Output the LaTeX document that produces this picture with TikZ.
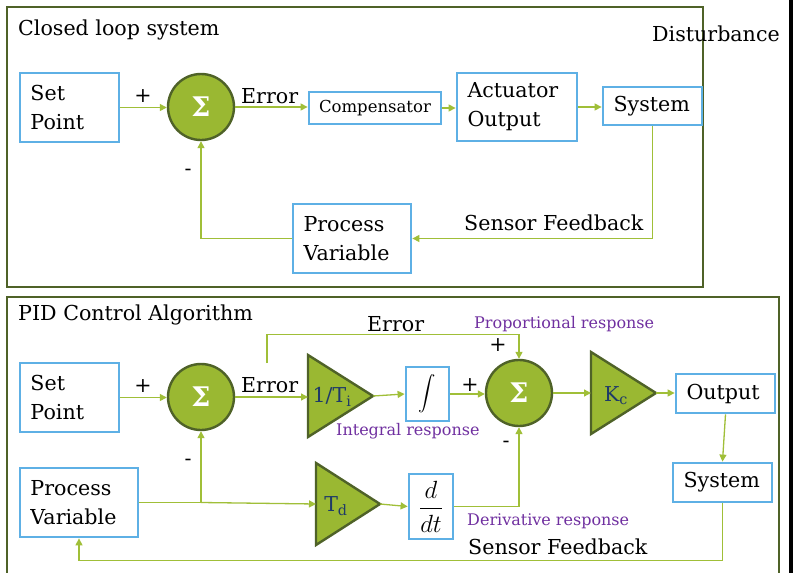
\documentclass[tikz,border=0pt]{standalone}
\usepackage{exscale}
\usepackage{fontspec}
\setmainfont{DejaVu Serif}
\usetikzlibrary{arrows.meta,calc}
\definecolor{frameolive}{HTML}{4F6228}
\definecolor{sumgreen}{HTML}{9AB832}
\definecolor{linegreen}{HTML}{A0BF38}
\definecolor{boxblue}{HTML}{5EB0E5}
\definecolor{gainnavy}{HTML}{1F3A68}
\definecolor{respurple}{HTML}{7030A0}
\begin{document}
\begin{tikzpicture}[x=1pt,y=-1pt,
  lbl/.style={font=\fontsize{20.6}{29}\selectfont, inner sep=0pt},
  blk/.style={draw=boxblue, line width=2.8pt, fill=white, inner ysep=0pt,
    inner xsep=10.5pt, align=left, font=\fontsize{20.6}{29}\selectfont},
  sumc/.style={circle, draw=frameolive, line width=2.4pt, fill=sumgreen,
    minimum size=66pt, inner sep=0pt, text=white,
    font=\fontsize{27}{27}\selectfont\bfseries},
  gain/.style={draw=frameolive, line width=2.4pt, fill=sumgreen, line join=miter},
  con/.style={draw=linegreen, line width=1.3pt},
  arr/.style={con, -{Triangle[length=7pt,width=7pt]}},
  frm/.style={draw=frameolive, line width=2.8pt},
  resp/.style={text=respurple, font=\fontsize{16}{18}\selectfont, inner sep=0pt},
  navy/.style={text=gainnavy, font=\fontsize{20.5}{24}\selectfont, inner sep=0pt}]

\useasboundingbox (0,0) rectangle (796,573);
\fill[white] (0,0) rectangle (796,573);

% ---------- frames ----------
\begin{scope}
  \clip (0,0) rectangle (796,573);
  \draw[frm] (7,7) rectangle (703,287);
  \draw[frm] (7,297) rectangle (779,600);
  \fill[black] (788.5,0) rectangle (792.5,573);
\end{scope}

% ---------- closed loop system ----------
\node[lbl, anchor=base west] (title1) at (18,35) {Closed loop system};
\node[lbl, anchor=base west] (dist) at (652,41) {Disturbance};

\node[blk, text width=78pt, minimum height=69pt] (sp1) at (69.5,107.5) {Set\\Point};
\node[sumc] (sig1) at (201,107) {\raisebox{-2.5pt}{Σ}};
\node[blk, align=center, inner xsep=0pt, text width=132pt, minimum height=32pt,
  font=\fontsize{16.5}{20}\selectfont] (comp) at (375,108) {Compensator};
\node[blk, text width=99pt, minimum height=68pt] (act) at (517,107) {Actuator\\Output};
\node[blk, text width=78pt, minimum height=38pt] (sys1) at (652.5,106) {System};
\node[blk, text width=97pt, minimum height=69pt] (pv1) at (352,238.5) {Process\\Variable};

\node[lbl] (plus1) at (143,96) {+};
\node[lbl] (minus1) at (188,172) {-};
\node[lbl, anchor=base west] (err1) at (241,103) {Error};
\node[lbl, anchor=base west] (sf1) at (464,230) {Sensor Feedback};

\draw[arr] (sp1.east) -- (sp1.east -| sig1.west);
\draw[arr] (sig1.east) -- (sig1.east -| comp.west);
\draw[arr] (comp.east) -- (comp.east -| act.west);
\draw[arr] (act.east) -- (act.east -| sys1.west);
\draw[arr] (sys1.south) |- (pv1.east);
\draw[arr] (pv1.west) -| (sig1.south);

% ---------- PID control algorithm ----------
\node[lbl, anchor=base west] (title2) at (18,320) {PID Control Algorithm};

\node[blk, text width=78pt, minimum height=69pt] (sp2) at (69.5,397.5) {Set\\Point};
\node[sumc] (sig2a) at (201,397) {\raisebox{-2.5pt}{Σ}};
\node[sumc] (sig2b) at (519,393) {\raisebox{-2.5pt}{Σ}};
\node[blk, text width=97pt, minimum height=69pt] (pv2) at (79,502.5) {Process\\Variable};

% integral gain
\draw[gain] (308,355) -- (373,396) -- (308,437) -- cycle;
\coordinate (tiL) at (308,396);
\coordinate (tiA) at (373,396);
\node[navy] (ti) at (332,397) {1/T\textsubscript{i}};

% derivative gain
\draw[gain] (316,463) -- (380,504) -- (316,545) -- cycle;
\coordinate (tdL) at (316,504);
\coordinate (tdA) at (380,504);
\node[navy] (td) at (336,506) {T\textsubscript{d}};

% controller gain
\draw[gain] (591,352) -- (656,393) -- (591,434) -- cycle;
\coordinate (kcL) at (591,393);
\coordinate (kcA) at (656,393);
\node[navy] (kc) at (616,396) {K\textsubscript{c}};

\node[blk, align=center, inner xsep=0pt, text width=43pt, minimum height=54pt,
  font=\fontsize{18}{18}\selectfont] (int) at (427.5,394) {$\displaystyle\int$};
\node[blk, align=center, inner xsep=0pt, text width=44pt, minimum height=65pt,
  font=\fontsize{26}{26}\selectfont] (ddt) at (431,506.5) {$\displaystyle\frac{d}{dt}$};
\node[blk, text width=78pt, minimum height=39pt] (out) at (725.5,393.5) {Output};
\node[blk, text width=78pt, minimum height=39pt] (sys2) at (722.5,482.5) {System};

\node[lbl] (plus4) at (143,386) {+};
\node[lbl] (minus2) at (188,462) {-};
\node[lbl, anchor=base west] (err3) at (241,392) {Error};
\node[lbl, anchor=base west] (err2) at (367,331) {Error};
\node[resp, anchor=base west] (prop) at (474,328) {Proportional response};
\node[lbl] (plus2) at (498,345) {+};
\node[lbl] (plus3) at (470,385) {+};
\node[lbl] (minus3) at (506,444) {-};
\node[resp, anchor=base west] (intr) at (336,435) {Integral response};
\node[resp, anchor=base west] (derr) at (467,525) {Derivative response};
\node[lbl, anchor=base west] (sf2) at (468,554) {Sensor Feedback};

\coordinate (errtap) at (267,363);
\coordinate (jn) at (pv2.east -| sig2a.south);

\draw[arr] (sp2.east) -- (sp2.east -| sig2a.west);
\draw[arr] (sig2a.east) -- (sig2a.east -| tiL);
\draw[arr] (errtap) |- ($(sig2b.north)+(0,-24)$) -- (sig2b.north);
\draw[arr] (tiA) -- (int.west);
\draw[arr] (int.east) -- (int.east -| sig2b.west);
\draw[arr] (sig2b.east) -- (sig2b.east -| kcL);
\draw[arr] (kcA) -- (kcA -| out.west);
\draw[arr] (out.south) -- (sys2.north);
\draw[arr] (sys2.south) -- ++(0,57) -| (pv2.south);
\draw[con] (pv2.east) -- (jn);
\draw[arr] (jn) -- (sig2a.south);
\draw[arr] (jn) -- (tdL);
\draw[arr] (tdA) -- (ddt.west);
\draw[arr] (ddt.east) -| (sig2b.south);
\end{tikzpicture}
\end{document}
